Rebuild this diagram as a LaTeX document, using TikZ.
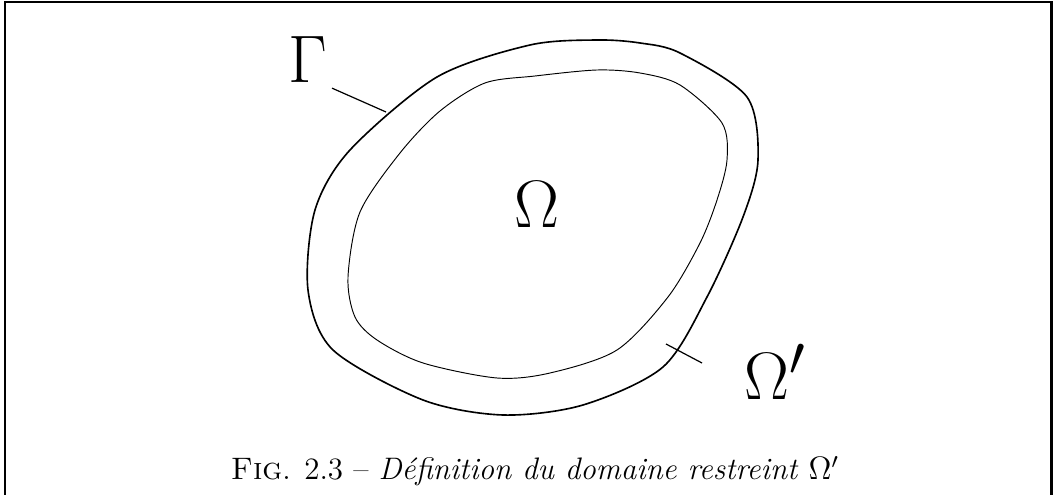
\documentclass[tikz,border=0pt]{standalone}
\usetikzlibrary{positioning}

\begin{document}
\begin{tikzpicture}[
  x=0.37pt, y=-0.37pt,
  frame/.style={line width=1pt},
  outer/.style={line width=0.6pt},
  inner/.style={line width=0.35pt},
  leader/.style={line width=0.45pt},
  sym/.style={font=\Huge, inner sep=0pt, anchor=base}
]
\useasboundingbox (0,0) rectangle (1053,495);
\draw[frame] (5,495) -- (5,2) -- (1051.5,2) -- (1051.5,495);

\draw[outer] plot[smooth cycle, tension=0.5] coordinates {
  (597,40) (640,43) (680,53) (747,97) (758,160) (743,217) (707,297) (663,367)
  (583,405) (503,415) (423,400) (333,350) (308,290) (315,210) (350,150)
  (437,77) (530,45)};
\draw[inner] plot[smooth cycle, tension=0.5] coordinates {
  (597,70) (640,73) (680,85) (722,123) (727,160) (717,200) (700,243) (668,297)
  (617,350) (550,373) (497,378) (423,363) (377,340) (355,317) (348,277)
  (360,212) (400,153) (440,111) (485,83) (535,76)};

\node[sym, inner sep=1.7pt] (gamma) at (307.5,83) {$\Gamma$};
\node[sym] (omega) at (537,228) {$\Omega$};
\node[sym, anchor=base west] (omegap) at (744,400) {$\Omega'$};

\coordinate (gammafoot) at (386,112);
\coordinate (ringpt) at (666,344);
\coordinate (ringend) at (702,363);

\draw[leader] (gamma.south east) -- (gammafoot);
\draw[leader] (ringpt) -- (ringend);

\node[anchor=base, font=\fontsize{11.5}{14}\selectfont] (caption) at (535,480)
  {\textsc{Fig}. 2.3 -- \textit{D\'efinition du domaine restreint} $\Omega'$};
\end{tikzpicture}
\end{document}
